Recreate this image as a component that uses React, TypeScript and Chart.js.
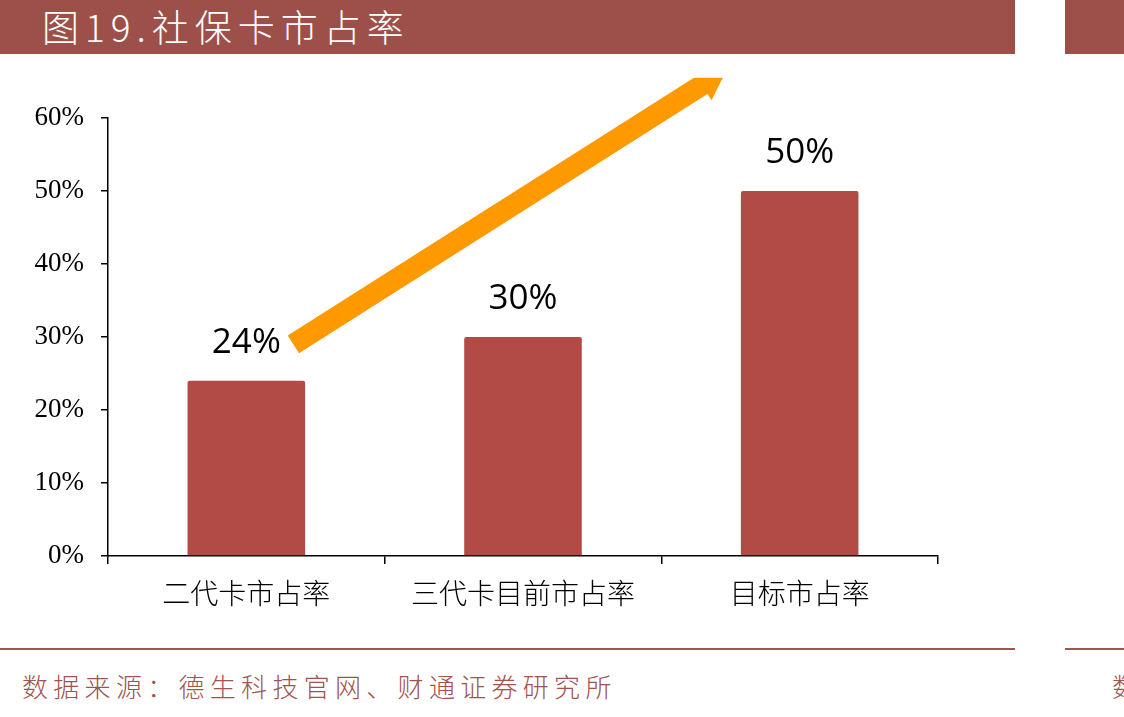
import React, { useEffect, useRef } from "react";
import { Chart, registerables } from "chart.js";

Chart.register(...registerables);

const categories = ["二代卡市占率", "三代卡目前市占率", "目标市占率"];
const shareValues = [24, 30, 50];
const yTicks = [0, 10, 20, 30, 40, 50, 60];
const titleText = "图19.社保卡市占率";
const sourceText = "数据来源：德生科技官网、财通证券研究所";
// arrow annotation anchored in data coordinates (category index, percent)
const arrowStart = { x: 0.17, y: 29 };
const arrowTip = { x: 1.738, y: 66.7 };
const arrowClipValue = 65.5;

const BAR_COLOR = "#B24A46";
const BAND_COLOR = "#9D4F49";
const ORANGE = "#FF9900";

const valueLabelPlugin = {
  id: "valueLabels",
  afterDatasetsDraw(chart: any) {
    const ctx = chart.ctx;
    const meta = chart.getDatasetMeta(0);
    ctx.save();
    ctx.font = '35px "Open Sans", "DejaVu Sans", sans-serif';
    ctx.fillStyle = "#000";
    ctx.textAlign = "center";
    ctx.textBaseline = "alphabetic";
    meta.data.forEach((bar: any, i: number) => {
      ctx.fillText(shareValues[i] + "%", bar.x, bar.y - 28);
    });
    ctx.restore();
  },
};

const arrowPlugin = {
  id: "trendArrow",
  afterDraw(chart: any) {
    const xs = chart.scales.x;
    const ys = chart.scales.y;
    const x0 = xs.getPixelForValue(arrowStart.x);
    const y0 = ys.getPixelForValue(arrowStart.y);
    const x1 = xs.getPixelForValue(arrowTip.x);
    const y1 = ys.getPixelForValue(arrowTip.y);
    const clipY = ys.getPixelForValue(arrowClipValue);
    const dx = x1 - x0;
    const dy = y1 - y0;
    const len = Math.sqrt(dx * dx + dy * dy);
    const ux = dx / len;
    const uy = dy / len;
    const px = -uy;
    const py = ux;
    const hw = 10.5;
    const headHw = 18;
    const headLen = 30;
    const bx = x1 - ux * headLen;
    const by = y1 - uy * headLen;
    const ctx = chart.ctx;
    ctx.save();
    ctx.beginPath();
    ctx.rect(0, clipY, chart.width, chart.height - clipY);
    ctx.clip();
    ctx.beginPath();
    ctx.moveTo(x0 + px * hw, y0 + py * hw);
    ctx.lineTo(bx + px * hw, by + py * hw);
    ctx.lineTo(bx + px * headHw, by + py * headHw);
    ctx.lineTo(x1, y1);
    ctx.lineTo(bx - px * headHw, by - py * headHw);
    ctx.lineTo(bx - px * hw, by - py * hw);
    ctx.lineTo(x0 - px * hw, y0 - py * hw);
    ctx.closePath();
    ctx.fillStyle = ORANGE;
    ctx.fill();
    ctx.restore();
  },
};

export default function App() {
  const canvasRef = useRef<HTMLCanvasElement | null>(null);

  useEffect(() => {
    if (!canvasRef.current) return;
    const chart = new Chart(canvasRef.current, {
      type: "bar",
      data: {
        labels: categories,
        datasets: [
          {
            data: shareValues,
            backgroundColor: BAR_COLOR,
            borderRadius: 2,
            borderSkipped: "bottom",
            categoryPercentage: 0.85,
            barPercentage: 0.5,
          },
        ],
      },
      options: {
        responsive: false,
        animation: false,
        devicePixelRatio: 1,
        layout: { padding: { top: 58, right: 77, left: 0, bottom: 0 } },
        plugins: {
          legend: { display: false },
          tooltip: { enabled: false },
          title: { display: false },
        },
        scales: {
          x: {
            afterFit(scale: any) {
              scale.height = 84;
            },
            border: { display: true, color: "#000", width: 1.5 },
            grid: {
              display: true,
              offset: true,
              drawOnChartArea: false,
              drawTicks: true,
              tickLength: 8,
              color: "#000",
              lineWidth: 1.5,
            },
            ticks: {
              color: "#000",
              padding: 13,
              maxRotation: 0,
              font: { family: '"Noto Sans CJK SC", sans-serif', size: 28, weight: "300" },
            },
          },
          y: {
            min: 0,
            max: 60,
            afterFit(scale: any) {
              scale.width = 108;
            },
            afterBuildTicks(scale: any) {
              scale.ticks = yTicks.map((v) => ({ value: v }));
            },
            border: { display: true, color: "#000", width: 1.5 },
            grid: {
              display: true,
              drawOnChartArea: false,
              drawTicks: true,
              tickLength: 7,
              color: "#000",
              lineWidth: 1.5,
            },
            ticks: {
              color: "#000",
              padding: 17,
              callback: (v: any) => v + "%",
              font: { family: '"Liberation Serif", "Times New Roman", serif', size: 27 },
            },
          },
        },
      },
      plugins: [valueLabelPlugin, arrowPlugin],
    });
    return () => chart.destroy();
  }, []);

  return (
    <div style={{ position: "absolute", left: 0, top: 0, width: 1124, height: 717, background: "#fff", overflow: "hidden" }}>
      <div style={{ position: "absolute", left: 0, top: 0, width: 1015, height: 54, background: BAND_COLOR }} />
      <div style={{ position: "absolute", left: 1065, top: 0, width: 59, height: 54, background: BAND_COLOR }} />
      <div
        style={{
          position: "absolute",
          left: 42,
          top: 3,
          height: 46,
          lineHeight: "46px",
          color: "#fff",
          fontFamily: '"Noto Sans CJK SC", sans-serif',
          fontWeight: 300,
          fontSize: 37,
          letterSpacing: 6,
          whiteSpace: "nowrap",
        }}
      >
        {titleText}
      </div>
      <canvas
        ref={canvasRef}
        width={1015}
        height={580}
        style={{ position: "absolute", left: 0, top: 60, width: 1015, height: 580 }}
      />
      <div style={{ position: "absolute", left: 0, top: 648, width: 1015, height: 2, background: "#A9524D" }} />
      <div style={{ position: "absolute", left: 1065, top: 648, width: 59, height: 2, background: "#A9524D" }} />
      <div
        style={{
          position: "absolute",
          left: 22,
          top: 668,
          height: 36,
          lineHeight: "36px",
          color: "#A0524C",
          fontFamily: '"Noto Sans CJK SC", sans-serif',
          fontWeight: 300,
          fontSize: 26,
          letterSpacing: 5.3,
          whiteSpace: "nowrap",
        }}
      >
        {sourceText}
      </div>
      <div
        style={{
          position: "absolute",
          left: 1112,
          top: 668,
          height: 36,
          lineHeight: "36px",
          color: "#A0524C",
          fontFamily: '"Noto Sans CJK SC", sans-serif',
          fontWeight: 300,
          fontSize: 26,
          whiteSpace: "nowrap",
        }}
      >
        数
      </div>
    </div>
  );
}
